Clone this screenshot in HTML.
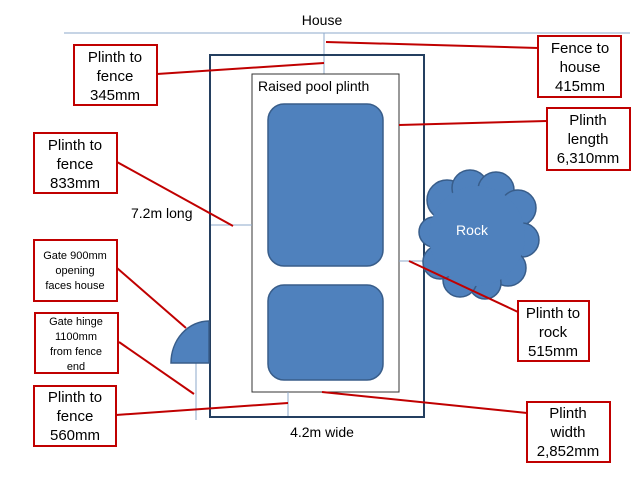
<!DOCTYPE html>
<html><head><meta charset="utf-8"><style>
body{margin:0;background:#fff}
svg{display:block;font-family:"Liberation Sans",sans-serif}
</style></head><body>
<svg width="640" height="480" viewBox="0 0 640 480">
<rect width="640" height="480" fill="#fff"/>
<text x="322" y="25" font-size="14" text-anchor="middle" fill="#000">House</text>
<line x1="64" y1="33" x2="630" y2="33" stroke="#8eaacb" stroke-width="1"/>
<line x1="324" y1="33" x2="324" y2="74" stroke="#8eaacb" stroke-width="1"/>
<rect x="210" y="55" width="214" height="362" fill="none" stroke="#243f60" stroke-width="2"/>
<rect x="252" y="74" width="147" height="318" fill="#fff" stroke="#333" stroke-width="1"/>
<text x="258" y="91" font-size="14" fill="#000">Raised pool plinth</text>
<rect x="268" y="104" width="115" height="162" rx="16" fill="#4f81bd" stroke="#385d8a" stroke-width="1.5"/>
<rect x="268" y="285" width="115" height="95" rx="16" fill="#4f81bd" stroke="#385d8a" stroke-width="1.5"/>
<text x="131" y="218" font-size="14" fill="#000">7.2m long</text>
<line x1="211" y1="225" x2="252" y2="225" stroke="#8eaacb"/>
<line x1="399" y1="261" x2="423" y2="261" stroke="#8eaacb"/>
<line x1="288" y1="392" x2="288" y2="416" stroke="#8eaacb"/>
<line x1="196" y1="363" x2="196" y2="420" stroke="#8eaacb"/>
<text x="322" y="437" font-size="14" text-anchor="middle" fill="#000">4.2m wide</text>
<path d="M171,363 A38,42 0 0 1 209,321 L209,363 Z" fill="#4f81bd" stroke="#385d8a" stroke-width="1.5"/>
<g fill="#4f81bd" stroke="#385d8a" stroke-width="1.5">
<circle cx="447" cy="200" r="20"/><circle cx="470" cy="188" r="18"/><circle cx="496" cy="190" r="18"/><circle cx="518" cy="208" r="18"/>
<circle cx="522" cy="240" r="17"/><circle cx="508" cy="268" r="18"/><circle cx="485" cy="283" r="16"/><circle cx="460" cy="280" r="17"/>
<circle cx="440" cy="262" r="17"/><circle cx="434" cy="232" r="15"/>
</g>
<ellipse cx="477" cy="236" rx="48" ry="50" fill="#4f81bd"/>
<text x="472" y="235" font-size="14" text-anchor="middle" fill="#fff">Rock</text>
<g stroke="#c00000" stroke-width="2">
<line x1="157" y1="74" x2="324" y2="63"/>
<line x1="326" y1="42" x2="538" y2="48"/>
<line x1="399" y1="125" x2="547" y2="121"/>
<line x1="117" y1="162" x2="233" y2="226"/>
<line x1="117" y1="268" x2="186" y2="328"/>
<line x1="119" y1="342" x2="194" y2="394"/>
<line x1="116" y1="415" x2="288" y2="403"/>
<line x1="322" y1="392" x2="527" y2="413"/>
<line x1="409" y1="261" x2="518" y2="312"/>
</g>
<g fill="#fff" stroke="#c00000" stroke-width="2">
<rect x="74" y="45" width="83" height="60"/>
<rect x="538" y="36" width="83" height="61"/>
<rect x="547" y="108" width="83" height="62"/>
<rect x="34" y="133" width="83" height="60"/>
<rect x="34" y="240" width="83" height="61"/>
<rect x="35" y="313" width="83" height="60"/>
<rect x="34" y="386" width="82" height="60"/>
<rect x="518" y="301" width="71" height="60"/>
<rect x="527" y="402" width="83" height="60"/>
</g>
<g font-size="15" text-anchor="middle" fill="#000">
<text x="115" y="62">Plinth to</text><text x="115" y="81">fence</text><text x="115" y="100">345mm</text>
<text x="580" y="53">Fence to</text><text x="580" y="72">house</text><text x="580" y="91">415mm</text>
<text x="588" y="125">Plinth</text><text x="588" y="144">length</text><text x="588" y="163">6,310mm</text>
<text x="75" y="150">Plinth to</text><text x="75" y="169">fence</text><text x="75" y="188">833mm</text>
<text x="75" y="402">Plinth to</text><text x="75" y="421">fence</text><text x="75" y="440">560mm</text>
<text x="553" y="318">Plinth to</text><text x="553" y="337">rock</text><text x="553" y="356">515mm</text>
<text x="568" y="418">Plinth</text><text x="568" y="437">width</text><text x="568" y="456">2,852mm</text>
</g>
<g font-size="11" text-anchor="middle" fill="#000">
<text x="75" y="259">Gate 900mm</text><text x="75" y="274">opening</text><text x="75" y="289">faces house</text>
<text x="76" y="325">Gate hinge</text><text x="76" y="340">1100mm</text><text x="76" y="355">from fence</text><text x="76" y="370">end</text>
</g>
</svg>
</body></html>
